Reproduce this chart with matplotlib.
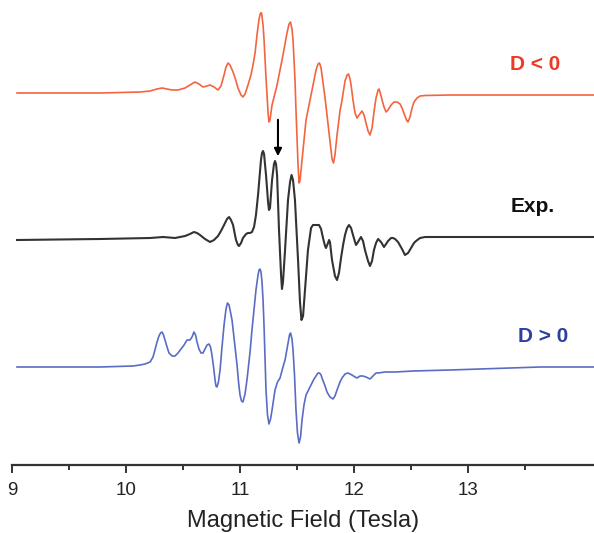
import matplotlib.pyplot as plt

plt.rcParams['font.family'] = ['Liberation Sans', 'DejaVu Sans']

# simulated spectrum, D < 0
field_neg = [9.044, 9.772, 10.123, 10.211, 10.272, 10.316, 10.360, 10.404, 10.456, 10.518,
             10.561, 10.605, 10.640, 10.675, 10.711, 10.737, 10.772, 10.807, 10.833, 10.860,
             10.877, 10.895, 10.912, 10.939, 10.965, 10.982, 11.009, 11.026, 11.044, 11.070,
             11.096, 11.114, 11.132, 11.149, 11.167, 11.180, 11.189, 11.202, 11.211, 11.228,
             11.237, 11.246, 11.254, 11.263, 11.281, 11.325, 11.377, 11.412, 11.430, 11.443,
             11.456, 11.465, 11.482, 11.491, 11.509, 11.518, 11.526, 11.544, 11.579, 11.623,
             11.667, 11.684, 11.697, 11.711, 11.719, 11.746, 11.763, 11.789, 11.807, 11.820,
             11.833, 11.851, 11.877, 11.895, 11.921, 11.939, 11.952, 11.965, 11.974, 11.991,
             12.009, 12.026, 12.044, 12.070, 12.088, 12.105, 12.123, 12.140, 12.158, 12.175,
             12.193, 12.211, 12.219, 12.228, 12.246, 12.263, 12.281, 12.298, 12.325, 12.351,
             12.377, 12.404, 12.421, 12.447, 12.465, 12.474, 12.491, 12.509, 12.526, 12.553,
             12.579, 12.623, 12.842, 14.105]
sig_neg = [0, 0, 1, 2, 4, 5, 4, 3, 3, 5,
           8, 11, 9, 6, 7, 8, 6, 3, 7, 18,
           26, 30, 28, 21, 12, 5, -2, -4, -1, 8,
           18, 28, 40, 58, 74, 80, 80, 68, 53, 15,
           -2, -20, -29, -27, -12, 8, 38, 60, 69, 71,
           64, 53, 14, -17, -72, -90, -88, -67, -27, -2,
           23, 29, 30, 25, 18, -5, -22, -48, -66, -70,
           -62, -42, -18, -7, 12, 18, 19, 14, 8, -7,
           -20, -25, -22, -18, -22, -30, -38, -42, -35, -19,
           -5, 3, 4, 1, -7, -14, -19, -17, -12, -9,
           -9, -11, -15, -23, -28, -29, -24, -15, -9, -5,
           -3, -2.5, -2, -2]

# experimental spectrum
field_exp = [9.044, 9.772, 10.211, 10.325, 10.430, 10.518, 10.561, 10.596, 10.623, 10.649,
             10.693, 10.737, 10.772, 10.807, 10.833, 10.860, 10.886, 10.904, 10.921, 10.939,
             10.956, 10.965, 10.982, 10.991, 11.009, 11.026, 11.053, 11.070, 11.088, 11.105,
             11.123, 11.140, 11.158, 11.175, 11.184, 11.193, 11.202, 11.211, 11.219, 11.228,
             11.246, 11.254, 11.263, 11.281, 11.298, 11.307, 11.316, 11.325, 11.342, 11.360,
             11.368, 11.377, 11.395, 11.421, 11.439, 11.452, 11.465, 11.482, 11.509, 11.526,
             11.539, 11.553, 11.570, 11.596, 11.623, 11.640, 11.667, 11.693, 11.711, 11.728,
             11.746, 11.754, 11.772, 11.781, 11.789, 11.807, 11.833, 11.851, 11.868, 11.886,
             11.904, 11.921, 11.939, 11.956, 11.974, 11.991, 12.009, 12.018, 12.035, 12.061,
             12.079, 12.096, 12.123, 12.140, 12.158, 12.175, 12.193, 12.211, 12.237, 12.263,
             12.281, 12.298, 12.325, 12.342, 12.360, 12.386, 12.421, 12.447, 12.474, 12.500,
             12.526, 12.544, 12.579, 12.623, 14.105]
sig_exp = [0, 1, 2, 3, 2, 4, 6, 8, 7, 5,
           1, -2, 0, 4, 9, 15, 21, 23, 20, 15,
           5, 0, -5, -6, -3, 2, 6, 7, 7, 8,
           13, 25, 45, 68, 80, 87, 89, 86, 76, 65,
           38, 30, 32, 60, 76, 79, 76, 65, 10, -35,
           -49, -42, -10, 40, 58, 65, 60, 40, -20, -62,
           -80, -76, -50, -10, 12, 15, 15, 15, 11, 2,
           -6, -8, -3, 0, -2, -20, -36, -40, -33, -18,
           -5, 5, 12, 15, 12, 5, -2, -5, -2, 3,
           -1, -10, -21, -26, -21, -10, -3, 1, -2, -7,
           -4, -1, 2, 2, 1, -2, -9, -15, -13, -8,
           -3, -1, 2, 3, 3]

# simulated spectrum, D > 0
field_pos = [9.044, 9.772, 10.061, 10.123, 10.167, 10.211, 10.237, 10.254, 10.272, 10.289,
             10.303, 10.316, 10.329, 10.342, 10.360, 10.377, 10.404, 10.430, 10.456, 10.482,
             10.509, 10.535, 10.561, 10.579, 10.596, 10.610, 10.623, 10.640, 10.658, 10.675,
             10.693, 10.711, 10.728, 10.741, 10.754, 10.768, 10.781, 10.789, 10.798, 10.811,
             10.825, 10.842, 10.860, 10.877, 10.890, 10.904, 10.930, 10.956, 10.974, 10.987,
             11.000, 11.013, 11.026, 11.044, 11.061, 11.088, 11.105, 11.123, 11.140, 11.158,
             11.167, 11.175, 11.184, 11.193, 11.202, 11.211, 11.219, 11.228, 11.241, 11.254,
             11.268, 11.281, 11.307, 11.329, 11.351, 11.377, 11.395, 11.421, 11.434, 11.443,
             11.456, 11.465, 11.478, 11.491, 11.504, 11.518, 11.531, 11.544, 11.561, 11.579,
             11.605, 11.623, 11.649, 11.667, 11.684, 11.697, 11.711, 11.719, 11.746, 11.763,
             11.789, 11.816, 11.833, 11.851, 11.877, 11.895, 11.921, 11.947, 11.965, 11.982,
             12.009, 12.026, 12.053, 12.079, 12.105, 12.123, 12.140, 12.158, 12.175, 12.193,
             12.211, 12.272, 12.360, 12.518, 12.842, 13.105, 13.632, 14.105]
sig_pos = [0, 0, 1, 2, 3, 5, 10, 17, 25, 31,
           34, 35, 32, 27, 20, 14, 11, 11, 14, 18,
           22, 27, 27, 30, 35, 32, 25, 18, 14, 14,
           18, 22, 23, 20, 12, 0, -13, -19, -20, -15,
           -3, 20, 42, 58, 64, 62, 47, 20, 2, -15,
           -28, -34, -35, -27, -13, 15, 37, 58, 77, 92,
           97, 98, 95, 85, 67, 40, 10, -23, -48, -57,
           -52, -43, -23, -15, -11, 0, 7, 24, 32, 34,
           28, 17, -8, -43, -66, -76, -70, -53, -38, -28,
           -22, -18, -12, -9, -6, -6, -8, -11, -19, -25,
           -30, -32, -29, -23, -15, -11, -7, -6, -7, -8,
           -10, -11, -9, -9, -10, -11, -12, -10, -8, -6,
           -6, -5, -5, -4, -3, -2, 0, 0]

offsets = [372, 225, 98]
labels = ['D < 0', 'Exp.', 'D > 0']
line_colors = ['#f4643f', '#333333', '#5a6cc4']
text_colors = ['#ee3a24', '#111111', '#2f3f9e']
label_pos = [(13.59, 401), (13.57, 258), (13.66, 129)]

fig = plt.figure(figsize=(5.94, 5.33), dpi=100)
ax = fig.add_axes([12 / 594, 68 / 533, 582 / 594, 465 / 533])

series = [(field_neg, sig_neg), (field_exp, sig_exp), (field_pos, sig_pos)]
widths = [1.2, 1.5, 1.2]
for i in range(len(series)):
    x, s = series[i]
    ax.plot(x, [v + offsets[i] for v in s], color=line_colors[i], lw=widths[i],
            solid_joinstyle='round')
    ax.text(label_pos[i][0], label_pos[i][1], labels[i], color=text_colors[i],
            fontsize=15, fontweight='bold', ha='center', va='center')

# arrow marking the feature in the experimental trace
ax.annotate('', xy=(11.333, 306), xytext=(11.333, 348),
            arrowprops=dict(arrowstyle='-|>', color='black', lw=1.5, mutation_scale=11))

ax.set_xlim(9, 14.105)
ax.set_ylim(0, 465)
for side in ['top', 'right', 'left']:
    ax.spines[side].set_visible(False)
ax.spines['bottom'].set_linewidth(1.6)
ax.spines['bottom'].set_color('#333333')
ax.set_yticks([])
ax.set_xticks([9, 10, 11, 12, 13])
ax.set_xticks([9.5, 10.5, 11.5, 12.5, 13.5], minor=True)
ax.tick_params(axis='x', which='major', direction='out', length=6, width=1.4,
               colors='#333333', labelsize=13.5, labelcolor='#222222', pad=6)
ax.tick_params(axis='x', which='minor', direction='out', length=3.5, width=1.4,
               colors='#333333')
ax.set_xlabel('Magnetic Field (Tesla)', fontsize=17, color='#222222', labelpad=8)
ax.patch.set_alpha(0)

plt.savefig('out.png', dpi=100)
